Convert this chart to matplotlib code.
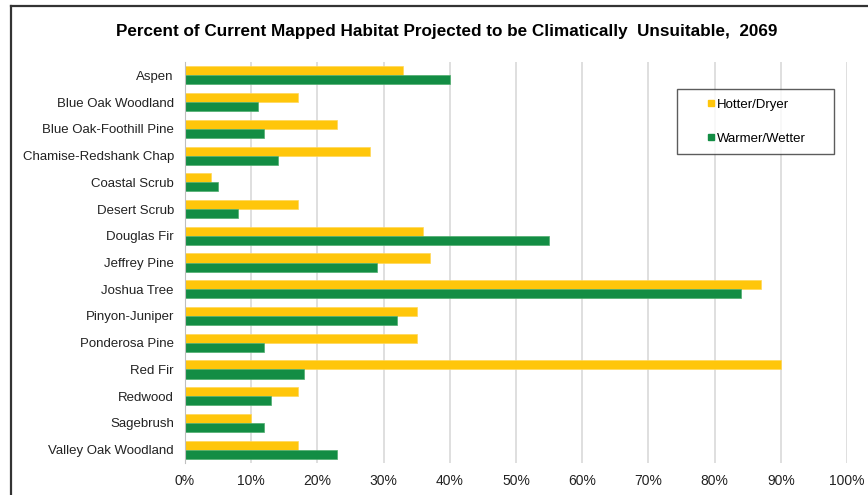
import matplotlib
matplotlib.use('Agg')
from matplotlib import pyplot as plt
from matplotlib.lines import Line2D
import numpy as np

habitats = ['Aspen', 'Blue Oak Woodland', 'Blue Oak-Foothill Pine', 'Chamise-Redshank Chap',
            'Coastal Scrub', 'Desert Scrub', 'Douglas Fir', 'Jeffrey Pine', 'Joshua Tree',
            'Pinyon-Juniper', 'Ponderosa Pine', 'Red Fir', 'Redwood', 'Sagebrush',
            'Valley Oak Woodland']
hotter_dryer = [33, 17, 23, 28, 4, 17, 36, 37, 87, 35, 35, 90, 17, 10, 17]
warmer_wetter = [40, 11, 12, 14, 5, 8, 55, 29, 84, 32, 12, 18, 13, 12, 23]
xticks = list(range(0, 101, 10))

yellow = '#FFC60B'
green = '#138D44'

plt.rcParams['font.family'] = ['Liberation Sans', 'DejaVu Sans']

fig = plt.figure(figsize=(8.68, 4.95), dpi=100)
ax = fig.add_axes([0.2131, 0.0646, 0.7627, 0.8101])

y = np.arange(len(habitats))
h = 0.34
ax.barh(y - h/2, hotter_dryer, height=h, color=yellow, edgecolor='#FFD75A', linewidth=0.5,
        label='Hotter/Dryer', zorder=3)
ax.barh(y + h/2, warmer_wetter, height=h, color=green, edgecolor='#4FAE6E', linewidth=0.5,
        label='Warmer/Wetter', zorder=3)

ax.set_ylim(len(habitats) - 0.5, -0.5)
ax.set_yticks(y)
ax.set_yticklabels(habitats, fontsize=9.55, color='#222222')
ax.set_xlim(0, 100)
ax.set_xticks(xticks)
ax.set_xticklabels(['%d%%' % t for t in xticks], fontsize=10, color='#222222')
ax.tick_params(length=0, pad=8)
ax.tick_params(axis='y', pad=8)
ax.grid(axis='x', color='#D9D9D9', linewidth=1.2, zorder=0)
for s in ['top', 'right', 'bottom']:
    ax.spines[s].set_visible(False)
ax.spines['left'].set_color('#BFBFBF')
ax.spines['left'].set_zorder(4)

handles = [Line2D([], [], marker='s', linestyle='', color=yellow, markersize=4.8),
           Line2D([], [], marker='s', linestyle='', color=green, markersize=4.8)]
leg = ax.legend(handles, ['Hotter/Dryer', 'Warmer/Wetter'], loc='upper left',
                bbox_to_anchor=(0.743, 0.0, 0.237, 0.933), mode='expand',
                fontsize=9.5, frameon=True,
                fancybox=False, edgecolor='#333333', labelspacing=1.67,
                handlelength=3.7, handletextpad=-1.37, borderpad=0.72, borderaxespad=0)
leg.get_frame().set_linewidth(1.0)
leg.set_zorder(5)

fig.text(0.515, 0.937, 'Percent of Current Mapped Habitat Projected to be Climatically  Unsuitable,  2069',
         ha='center', va='center', fontsize=12.3, fontweight='bold',
         family=['Liberation Sans Narrow', 'Liberation Sans', 'DejaVu Sans'])

# outer frame (left and top edges visible)
fig.add_artist(Line2D([0.0127, 0.0127], [0.0, 0.988], color='#333333', linewidth=1.6))
fig.add_artist(Line2D([0.0127, 1.0], [0.988, 0.988], color='#333333', linewidth=1.6))

fig.savefig('out.png', dpi=100)
